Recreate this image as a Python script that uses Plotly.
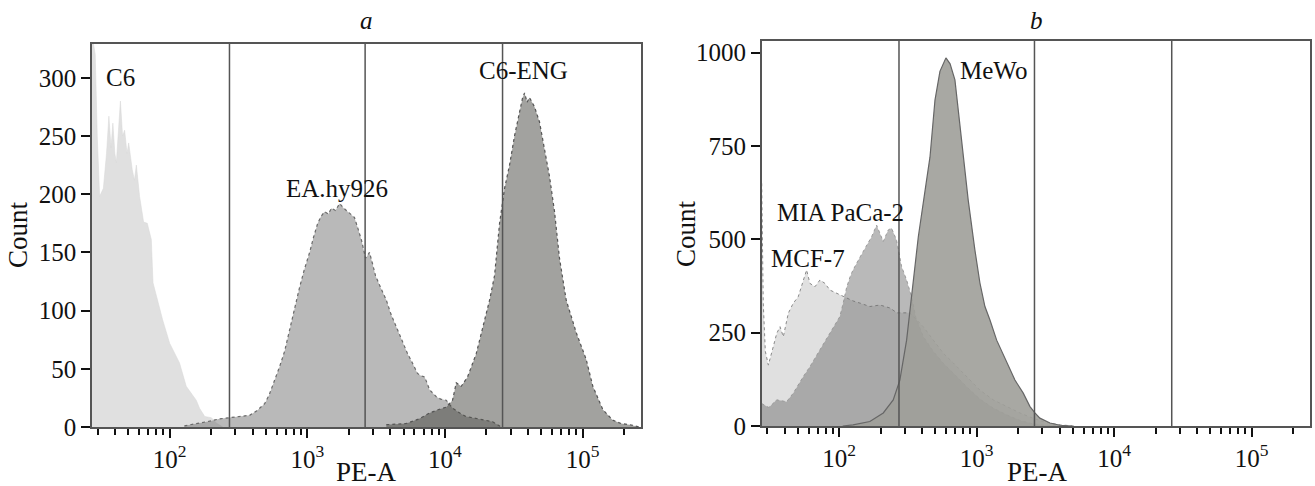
import plotly.graph_objects as go

W, H = 1315, 486

# ---------------- panel a data (PE-A value, Count) ----------------
c6_x = [27.3, 28.0, 28.8, 29.8, 31.0, 33.0, 34.8, 36.2, 37.5, 38.7, 40.0, 41.0, 42.5, 43.9, 45.5, 47.1,
        49.0, 50.4, 52.0, 53.5, 55.5, 57.3, 60.5, 64.7, 68.8, 73.6, 75.7, 81.8, 89.0, 100, 118, 132,
        156, 165, 180, 201, 218, 243]
c6_y = [329, 329, 320, 250, 198, 205, 235, 267, 240, 261, 235, 227, 255, 280, 250, 255,
        235, 244, 232, 221, 212, 225, 198, 176, 175, 161, 124, 109, 92, 72, 55, 35,
        23, 16, 9, 8, 3.5, 0]

ea_x = [128, 160, 195, 230, 273, 320, 381, 430, 490, 530, 579, 630, 684, 725, 769, 820, 879, 950, 1040,
        1110, 1190, 1260, 1335, 1420, 1500, 1600, 1720, 1840, 1960, 2080, 2200, 2340, 2480, 2650,
        2830, 2980, 3130, 3400, 3750, 4050, 4430, 4900, 5350, 5800, 6320, 6700, 7110, 7400, 7730,
        8650, 9300, 10200, 11400, 12800, 14200, 15850, 19000, 22200, 25600]
ea_y = [1, 3, 5, 7, 8, 9, 10, 14, 20, 28, 40, 52, 65, 78, 90, 103, 120, 135, 150,
        163, 175, 181, 185, 183, 188, 186, 192, 188, 185, 183, 180, 170, 160, 145,
        150, 140, 130, 120, 109, 97, 86, 75, 63, 55, 46, 44, 43, 38, 32,
        26, 24, 23, 16, 12, 9, 8, 6, 4.5, 0]

eng_x = [3750, 5240, 6500, 7730, 9000, 10200, 11350, 12080, 13130, 14590, 16870, 18850, 21090, 22910,
         24920, 27100, 29450, 32000, 34800, 36500, 37840, 39500, 41120, 44730, 48620, 52840, 57500,
         62500, 67900, 76000, 89900, 106200, 118600, 140200, 164800, 190000, 219000, 259000]
eng_y = [2, 3, 7, 12, 15, 17, 23, 38, 35, 43, 63, 86, 109, 130,
         175, 205, 225, 250, 270, 282, 287, 279, 283, 275, 262, 240, 215,
         185, 145, 109, 81, 58, 35, 15, 6, 3, 2, 0]

# ---------------- panel b data ----------------
mcf_x = [27.3, 28.0, 29.0, 30.5, 33.1, 35.1, 37.1, 39.2, 42.6, 46.3, 50.3, 54.7, 57.9, 61.2, 66.6,
         72.4, 78.7, 85.6, 95.8, 107, 126, 142, 167, 198, 234, 263, 327, 408, 483, 571, 675,
         845, 1055, 1318, 1650, 2060, 2560, 3130, 4030, 5180]
mcf_y = [650, 330, 200, 163, 212, 248, 266, 239, 302, 329, 346, 391, 418, 382, 373,
         391, 382, 364, 355, 346, 335, 329, 320, 324, 316, 303, 303, 266, 230, 195, 169,
         132, 96, 70, 52, 35, 21, 10, 3, 0]

mia_x = [27.3, 30.5, 31.3, 35.1, 41.4, 46.3, 54.7, 61.2, 72.4, 85.6, 101, 107, 113, 120, 126, 142,
         163, 172, 187, 198, 209, 227, 240, 261, 284, 309, 336, 361, 408, 483, 571, 675, 845,
         1055, 1318, 1650, 2060, 2560, 3130, 4030]
mia_y = [60, 50, 52, 70, 65, 88, 132, 159, 204, 248, 293, 330, 370, 400, 418, 453,
         490, 507, 538, 516, 494, 525, 530, 498, 427, 391, 346, 290, 240, 200, 168, 142, 105,
         72, 48, 30, 15, 6, 2, 0]

mewo_x = [106, 126, 167, 209, 247, 276, 309, 336, 376, 432, 457, 497, 540, 597, 640, 694, 780, 867,
          970, 1055, 1147, 1248, 1396, 1650, 1896, 2180, 2440, 2650, 2880, 3410, 4030, 4920]
mewo_y = [0, 3, 12, 35, 70, 123, 230, 356, 507, 659, 720, 873, 950, 986, 970, 927, 766, 605,
          471, 383, 320, 284, 230, 169, 123, 88, 52, 35, 21, 8, 2, 0]

gates = [272, 2630, 26200]
major_ticks = [100, 1000, 10000, 100000]
major_text = ["10<sup>2</sup>", "10<sup>3</sup>", "10<sup>4</sup>", "10<sup>5</sup>"]
minor_ticks = [m * 10 ** e for e in range(1, 6) for m in range(2, 10) if 27 < m * 10 ** e < 260000]
yticks_a = [0, 50, 100, 150, 200, 250, 300]
yticks_b = [0, 250, 500, 750, 1000]

FONT = "Liberation Serif"
FS = 25
FS_T = 27

fig = go.Figure()


def area(x, y, fill, line_color, dash, width, xa, ya):
    fig.add_trace(go.Scatter(
        x=x, y=y, mode="lines", fill="tozeroy", fillcolor=fill,
        line=dict(color=line_color, width=width, dash=dash, shape="linear"),
        xaxis=xa, yaxis=ya, hoverinfo="skip", showlegend=False))


# panel a
area(c6_x, c6_y, "rgba(200,200,200,0.56)", "rgba(215,215,215,1)", "solid", 0.5, "x", "y")
area(ea_x, ea_y, "rgba(108,108,108,0.48)", "#6a6a6a", "dot", 1.2, "x", "y")
area(eng_x, eng_y, "rgba(60,60,55,0.48)", "#555555", "dot", 1.2, "x", "y")
# panel b
area(mcf_x, mcf_y, "rgba(200,200,200,0.56)", "#8a8a8a", "dot", 1.0, "x2", "y2")
area(mia_x, mia_y, "rgba(108,108,108,0.48)", "#9a9a9a", "dot", 1.0, "x2", "y2")
area(mewo_x, mewo_y, "rgba(158,158,153,0.9)", "#666666", "solid", 1.2, "x2", "y2")


def px2paper(px, py):
    return px / W, 1 - py / H


xa_dom = [92 / W, 641 / W]
xb_dom = [761.7 / W, 1310 / W]
ya_dom = [1 - 427 / H, 1 - 44 / H]
yb_dom = [1 - 426 / H, 1 - 40.7 / H]

common_x = dict(type="log", range=[1.436, 5.424], tickvals=major_ticks, ticktext=major_text,
                ticks="outside", ticklen=9, tickwidth=1.5, tickcolor="#111",
                showline=True, linecolor="#555", linewidth=1.5, mirror=True,
                showgrid=False, zeroline=False, automargin=False,
                tickfont=dict(family=FONT, size=FS, color="#111"),
                minor=dict(tickvals=minor_ticks, ticks="outside", ticklen=6, tickwidth=1.5,
                           tickcolor="#111", showgrid=False))
common_y = dict(ticks="outside", ticklen=9, tickwidth=1.5, tickcolor="#111",
                showline=True, linecolor="#555", linewidth=1.5, mirror=True,
                showgrid=False, zeroline=False, automargin=False,
                tickfont=dict(family=FONT, size=FS, color="#111"))

fig.update_layout(
    width=W, height=H, margin=dict(l=0, r=0, t=0, b=0, pad=0, autoexpand=False),
    paper_bgcolor="white", plot_bgcolor="white",
    font=dict(family=FONT, size=FS, color="#111"),
    xaxis=dict(domain=xa_dom, anchor="y", **common_x),
    yaxis=dict(domain=ya_dom, anchor="x", range=[0, 329], tickvals=yticks_a, **common_y),
    xaxis2=dict(domain=xb_dom, anchor="y2", **common_x),
    yaxis2=dict(domain=yb_dom, anchor="x2", range=[0, 1032], tickvals=yticks_b, **common_y),
    showlegend=False,
)

for xa, ya in (("x", "y"), ("x2", "y2")):
    for g in gates:
        fig.add_shape(type="line", xref=xa, x0=g, x1=g, yref=ya + " domain", y0=0, y1=1,
                      line=dict(color="#555", width=1.5))

labels = [
    ("<i>a</i>", 366, 20), ("<i>b</i>", 1036, 20),
    ("C6", 120, 77), ("EA.hy926", 337, 188), ("C6-ENG", 523, 70),
    ("MeWo", 993, 70), ("MIA PaCa-2", 840, 212), ("MCF-7", 808, 258),
]
for text, px, py in labels:
    x, y = px2paper(px, py)
    fig.add_annotation(text=text, x=x, y=y, xref="paper", yref="paper",
                       showarrow=False, xanchor="center", yanchor="middle",
                       font=dict(family=FONT, size=FS, color="#111"))

for px in (366, 1037):
    x, y = px2paper(px, 472)
    fig.add_annotation(text="PE-A", x=x, y=y, xref="paper", yref="paper",
                       showarrow=False, xanchor="center", yanchor="middle",
                       font=dict(family=FONT, size=FS_T, color="#111"))

for px, py in ((18, 235), (686, 233)):
    x, y = px2paper(px, py)
    fig.add_annotation(text="Count", x=x, y=y, xref="paper", yref="paper", textangle=-90,
                       showarrow=False, xanchor="center", yanchor="middle",
                       font=dict(family=FONT, size=FS_T, color="#111"))

fig.write_html("out.html", config={"displayModeBar": False},
               post_script="document.body.style.margin='0';document.body.style.overflow='hidden';")
